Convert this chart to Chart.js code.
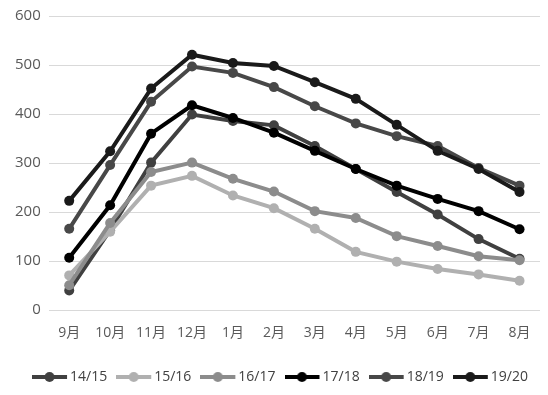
<!DOCTYPE html>
<html>
<head>
<meta charset="utf-8">
<script src="https://cdn.jsdelivr.net/npm/chart.js@4"></script>
<style>
  html, body { margin: 0; padding: 0; background: #fff; }
  #wrap { width: 548px; height: 395px; }
</style>
</head>
<body>
<div id="wrap"><canvas id="seasonChart"></canvas></div>
<script>
const months = ['9月', '10月', '11月', '12月', '1月', '2月', '3月', '4月', '5月', '6月', '7月', '8月'];
const yTicks = [0, 100, 200, 300, 400, 500, 600];

const s1415 = [40, 163, 301, 399, 386, 377, 335, 288, 241, 195, 145, 105];
const s1516 = [71, 160, 254, 274, 234, 208, 166, 119, 99, 84, 73, 60];
const s1617 = [51, 178, 282, 301, 268, 242, 202, 188, 151, 131, 110, 102];
const s1718 = [107, 214, 360, 418, 392, 362, 325, 288, 254, 227, 202, 165];
const s1819 = [166, 296, 425, 497, 484, 455, 416, 381, 355, 335, 290, 254];
const s1920 = [223, 324, 452, 521, 504, 498, 465, 431, 378, 325, 288, 241];

const seasons = ['14/15', '15/16', '16/17', '17/18', '18/19', '19/20'];
const seasonData = [s1415, s1516, s1617, s1718, s1819, s1920];
const seasonColors = ['#404040', '#b0b0b0', '#8c8c8c', '#000000', '#484848', '#1a1a1a'];

const FONT = "'Open Sans', 'Noto Sans CJK SC', sans-serif";

// legend marker: a short thick line with a dot in the middle
function legendMarker(color) {
    const c = document.createElement('canvas');
    c.width = 42;
    c.height = 12;
    const g = c.getContext('2d');
    g.strokeStyle = color;
    g.lineWidth = 4;
    g.beginPath();
    g.moveTo(0, 6);
    g.lineTo(35, 6);
    g.stroke();
    g.fillStyle = color;
    g.beginPath();
    g.arc(17.5, 6, 5, 0, Math.PI * 2);
    g.fill();
    return c;
}

// the marker hangs out to the left of each legend box, so nudge the legend right
const legendNudge = {
    id: 'legendNudge',
    afterLayout(chart) {
        chart.legend.left += 12;
        chart.legend.right += 12;
    }
};

let makeChart = function() {
    const ctx = document.getElementById('seasonChart');

    new Chart(ctx, {
    type: 'line',
    data: {
        labels: months,
        datasets: seasons.map((name, i) => ({
            label: name,
            data: seasonData[i],
            borderColor: seasonColors[i],
            backgroundColor: seasonColors[i],
            borderWidth: 4,
            pointRadius: 5,
            pointBorderWidth: 0,
            pointBackgroundColor: seasonColors[i],
            tension: 0,
            order: seasons.length - i,
        }))
    },
    plugins: [legendNudge],
    options: {
        maintainAspectRatio: false,
        responsive: true,
        animation: false,
        layout: {
            padding: { top: 16, right: 8, left: 7, bottom: 1 }
        },
        plugins: {
            tooltip: { enabled: false },
            legend: {
                position: 'bottom',
                labels: {
                    usePointStyle: true,
                    pointStyleWidth: 20,
                    boxHeight: 12,
                    padding: 20,
                    color: '#404040',
                    font: { family: FONT, size: 14 },
                    generateLabels: (chart) => chart.data.datasets.map((ds, i) => ({
                        text: ds.label,
                        fillStyle: ds.borderColor,
                        strokeStyle: ds.borderColor,
                        lineWidth: 0,
                        pointStyle: legendMarker(ds.borderColor),
                        hidden: false,
                        datasetIndex: i,
                        fontColor: '#404040',
                    })),
                }
            }
        },
        scales: {
            x: {
                offset: true,
                grid: { display: false, offset: true },
                border: { display: false },
                afterFit: (axis) => { axis.height += 3; },
                ticks: {
                    color: '#595959',
                    padding: 6,
                    font: { family: FONT, size: 14 },
                    maxRotation: 0,
                }
            },
            y: {
                min: yTicks[0],
                max: yTicks[yTicks.length - 1],
                afterBuildTicks: (axis) => { axis.ticks = yTicks.map(v => ({ value: v })); },
                afterFit: (axis) => { axis.paddingTop = 9; axis.paddingBottom = 9; },
                grid: { color: '#d9d9d9', lineWidth: 1, drawTicks: false },
                border: { display: false },
                ticks: {
                    color: '#595959',
                    padding: 8,
                    font: { family: FONT, size: 15 },
                }
            }
        }
    }
    });
}

document.addEventListener('DOMContentLoaded', makeChart, false);
</script>
</body>
</html>
